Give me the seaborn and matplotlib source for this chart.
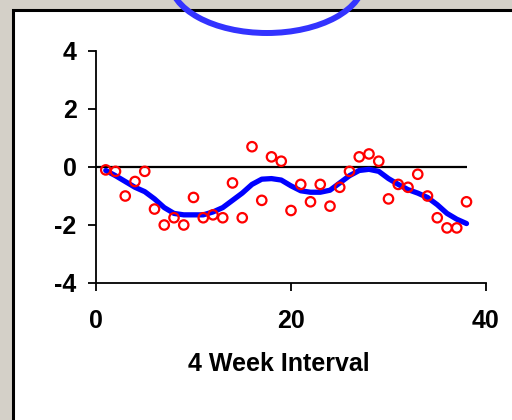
import numpy as np
import pandas as pd
import matplotlib
matplotlib.use("Agg")
import matplotlib.pyplot as plt
import seaborn as sns
from matplotlib.patches import Rectangle, Ellipse

# data
interval = list(range(1, 39))
observed = [-0.1, -0.15, -1.0, -0.5, -0.15, -1.45, -2.0, -1.75, -2.0, -1.05,
            -1.75, -1.65, -1.75, -0.55, -1.75, 0.7, -1.15, 0.35, 0.2, -1.5,
            -0.6, -1.2, -0.6, -1.35, -0.7, -0.15, 0.35, 0.45, 0.2, -1.1,
            -0.6, -0.7, -0.25, -1.0, -1.75, -2.1, -2.1, -1.2]
smoothed = [-0.12, -0.3, -0.5, -0.7, -0.85, -1.1, -1.4, -1.6, -1.65, -1.65,
            -1.65, -1.55, -1.4, -1.15, -0.9, -0.6, -0.42, -0.4, -0.45, -0.65,
            -0.82, -0.87, -0.87, -0.8, -0.55, -0.3, -0.12, -0.08, -0.15, -0.4,
            -0.6, -0.78, -0.9, -1.05, -1.3, -1.6, -1.8, -1.95]
xticks = [0, 20, 40]
yticks = [-4, -2, 0, 2, 4]

df = pd.DataFrame({'interval': interval, 'observed': observed, 'smoothed': smoothed})

sns.set_style("white")
plt.rcParams['font.family'] = ['Liberation Sans', 'DejaVu Sans']
plt.rcParams['axes.unicode_minus'] = False

W, H = 512, 420
fig = plt.figure(figsize=(W / 100, H / 100), dpi=100)
fig.patch.set_facecolor('#d4d0c8')

# white panel with dark border
panel = Rectangle((13 / W, -0.05), 1.1, 1 - 9.5 / H + 0.05, transform=fig.transFigure,
                  facecolor='white', edgecolor='black', lw=2.2, zorder=0)
fig.patches.append(panel)

ax = fig.add_axes([96 / W, 1 - 283 / H, 390 / W, 232 / H])
ax.set_zorder(1)
ax.set_facecolor('none')

# zero reference line
ax.hlines(0, 0, df['interval'].max(), color='black', lw=1.6, zorder=1)
sns.lineplot(data=df, x='interval', y='smoothed', ax=ax, color='#0000ff', lw=3.8, zorder=2)
sns.scatterplot(data=df, x='interval', y='observed', ax=ax, marker='o', s=46,
                facecolor='none', edgecolor='#ff0000', linewidth=1.6, zorder=3)

ax.set_xlim(0, 40)
ax.set_ylim(-4, 4)
ax.set_xticks(xticks)
ax.set_yticks(yticks)
for s in ['top', 'right']:
    ax.spines[s].set_visible(False)
for s in ['left', 'bottom']:
    ax.spines[s].set_color('black')
    ax.spines[s].set_linewidth(1.3)
ax.tick_params(bottom=True, left=True, direction='out', length=6, width=1.3,
               color='black', labelcolor='black', labelsize=18, pad=8)
ax.tick_params(axis='x', pad=13)
for lab in ax.get_xticklabels() + ax.get_yticklabels():
    lab.set_fontweight('bold')
ax.set_ylabel('')
ax.set_xlabel('4 Week Interval', fontsize=18, fontweight='bold', color='black')
ax.xaxis.set_label_coords((279 - 96) / 390, -(376 - 283) / 232)
ax.xaxis.label.set_va('bottom')

# blue ellipse at the top, partly outside the figure
ell = Ellipse((267 / W, 1 + 20 / H), 194 / W, 106 / H, transform=fig.transFigure,
              facecolor='none', edgecolor='#3333ff', lw=4.3, zorder=5)
fig.patches.append(ell)

fig.savefig('out.png', dpi=100, facecolor=fig.get_facecolor())
